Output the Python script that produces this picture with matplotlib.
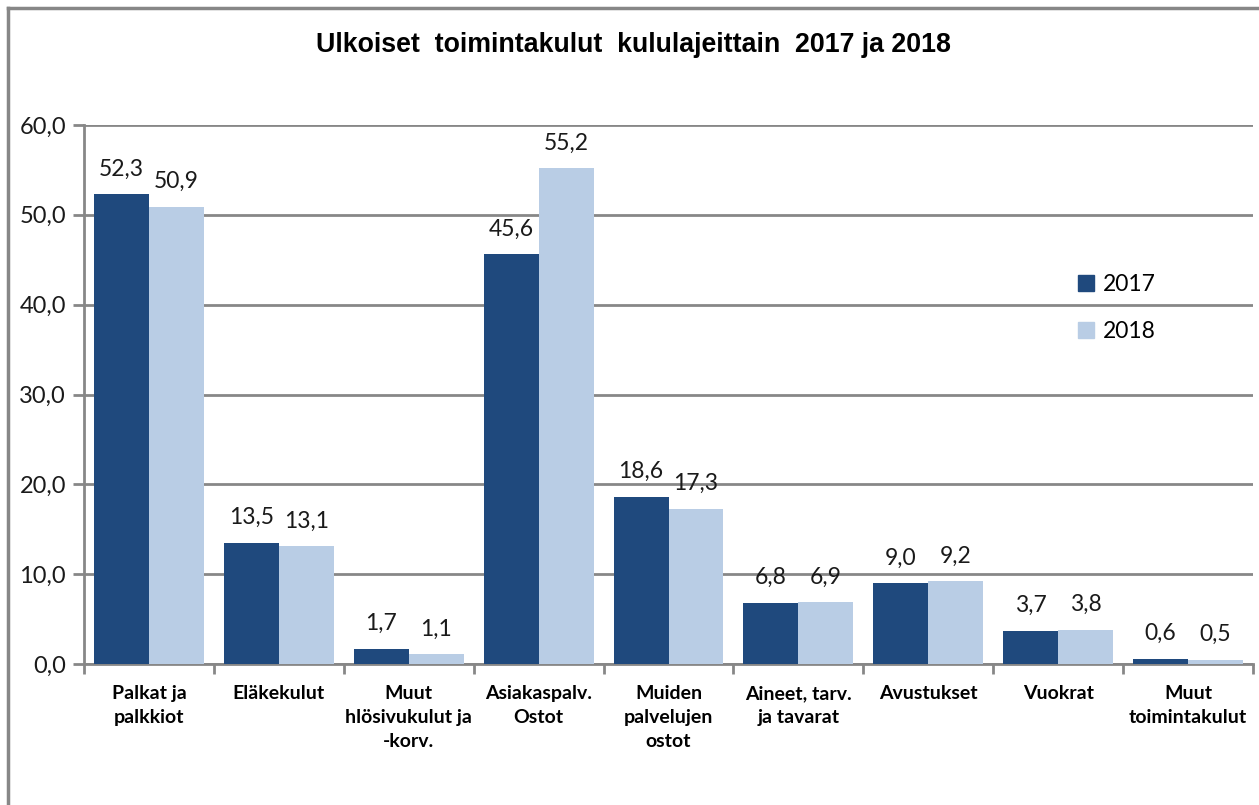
import matplotlib
matplotlib.use("Agg")
import matplotlib.pyplot as plt
import numpy as np
from matplotlib.lines import Line2D
from matplotlib.patches import Patch

categories = ["Palkat ja\npalkkiot", "Eläkekulut", "Muut\nhlösivukulut ja\n-korv.",
              "Asiakaspalv.\nOstot", "Muiden\npalvelujen\nostot", "Aineet, tarv.\nja tavarat",
              "Avustukset", "Vuokrat", "Muut\ntoimintakulut"]
v2017 = [52.3, 13.5, 1.7, 45.6, 18.6, 6.8, 9.0, 3.7, 0.6]
v2018 = [50.9, 13.1, 1.1, 55.2, 17.3, 6.9, 9.2, 3.8, 0.5]
series_names = ["2017", "2018"]
yticks = [0, 10, 20, 30, 40, 50, 60]

c1 = "#1F497D"
c2 = "#B9CDE5"
gray = "#878787"
font = "Lato"

fig = plt.figure(figsize=(12.59, 8.05), dpi=100)
ax = fig.add_axes([84/1259, 1-664/805, (1253-84)/1259, (664-125)/805])

x = np.arange(len(categories))
w = 0.423
b1 = ax.bar(x - w/2, v2017, w, color=c1, zorder=3)
b2 = ax.bar(x + w/2, v2018, w, color=c2, zorder=3)

def fmt(v):
    return f"{v:.1f}".replace(".", ",")

for bars, vals in ((b1, v2017), (b2, v2018)):
    for r, v in zip(bars, vals):
        ax.annotate(fmt(v), (r.get_x() + r.get_width()/2, v), xytext=(0, 10.5),
                    textcoords="offset points", ha="center", va="bottom",
                    fontsize=16.5, family=font, color="#1a1a1a")

ax.set_xlim(-0.5, len(categories) - 0.5)
ax.set_ylim(0, 60)
ax.set_yticks(yticks)
ax.set_yticklabels([fmt(t) for t in yticks], fontsize=17, family=font, color="#1a1a1a")
ax.yaxis.grid(True, color=gray, linewidth=2, zorder=0)
ax.set_axisbelow(True)

ax.set_xticks(x)
ax.set_xticklabels(categories, fontsize=14, family=font, fontweight="bold",
                   linespacing=1.49, va="top")
ax.tick_params(axis="x", length=0, pad=15)
ax.set_xticks(np.arange(-0.5, len(categories)), minor=True)
ax.tick_params(axis="x", which="minor", length=7, width=2, color=gray, direction="out")
ax.tick_params(axis="y", length=8, width=2, color=gray, direction="out", pad=5)

for s in ["top", "right"]:
    ax.spines[s].set_visible(False)
for s in ["left", "bottom"]:
    ax.spines[s].set_color(gray)
    ax.spines[s].set_linewidth(2)

fig.text(633/1259, 1-45/805, "Ulkoiset  toimintakulut  kululajeittain  2017 ja 2018",
         ha="center", va="center", fontsize=19.3, fontweight="bold", family="Liberation Sans")

handles = [Patch(color=c1), Patch(color=c2)]
leg = fig.legend(handles, series_names, loc="upper left",
                 bbox_to_anchor=(1057/1259, 1-253/805), frameon=False,
                 prop={"family": font, "size": 16.5}, handlelength=0.7, handleheight=0.7,
                 labelspacing=1.15, handletextpad=0.4)

fig.add_artist(Line2D([8/1259, 8/1259], [0, 1-8/805], color=gray, linewidth=2.5))
fig.add_artist(Line2D([8/1259, 1], [1-8/805, 1-8/805], color=gray, linewidth=2.5))

fig.savefig("out.png", dpi=100, facecolor="white")
